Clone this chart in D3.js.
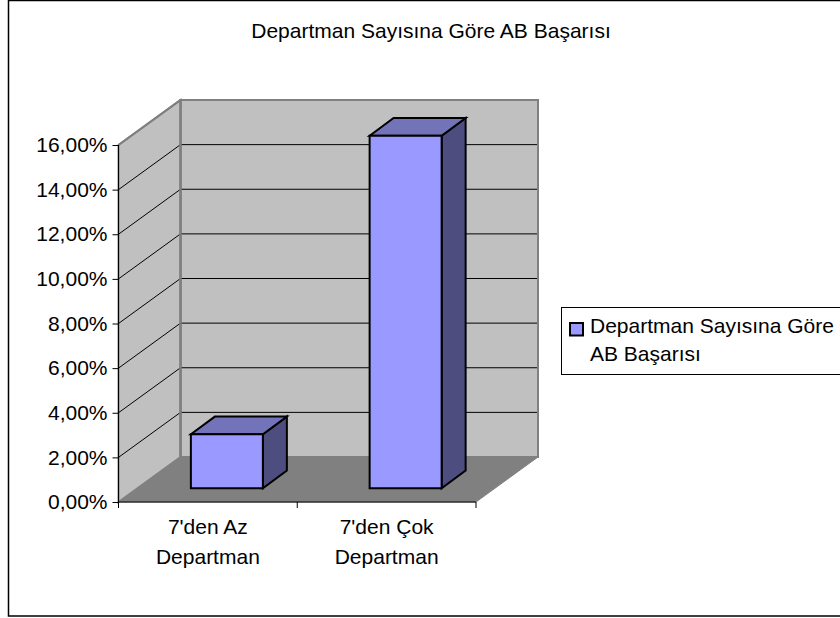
<!DOCTYPE html>
<html><head><meta charset="utf-8">
<script src="https://cdn.jsdelivr.net/npm/d3@7"></script>
<style>html,body{margin:0;padding:0;background:#fff}svg{display:block}text{font-family:"Liberation Sans",Arial,sans-serif;fill:#000}</style>
</head><body><svg id="c" width="840" height="618"></svg>
<script>
const categories=[["7'den Az","Departman"],["7'den Çok","Departman"]];
const values=[2.42,15.8];
const yTicks=[0,2,4,6,8,10,12,14,16];
const titleText="Departman Sayısına Göre AB Başarısı";
const legendLines=["Departman Sayısına Göre","AB Başarısı"];
const svg=d3.select("#c");
const fmt=v=>v.toFixed(2).replace(".",",")+"%";
const y=d3.scaleLinear().domain([0,16]).range([502,145]);
const x=d3.scaleBand().domain([0,1]).range([118.5,476]);
const depthX=62,depthY=45;
const x0=118.5,x1=476,yB=502,yT=145;
const wall="#c0c0c0",edge="#808080",floor="#808080";
const FS=21;
svg.append("rect").attr("x",8.5).attr("y",0.5).attr("width",840).attr("height",615.5).attr("fill","#fff").attr("stroke","#000").attr("stroke-width",1.5);
const poly=(pts,fill,stroke,sw)=>svg.append("polygon").attr("points",pts.map(p=>p.join(",")).join(" ")).attr("fill",fill).attr("stroke",stroke||"none").attr("stroke-width",sw||1).attr("stroke-linejoin","miter");
poly([[x0+depthX,yT-depthY],[x1+depthX,yT-depthY],[x1+depthX,yB-depthY],[x0+depthX,yB-depthY]],wall,edge,2);
poly([[x0,yT],[x0+depthX,yT-depthY],[x0+depthX,yB-depthY],[x0,yB]],wall,edge,2);
poly([[x0,yB],[x0+depthX,yB-depthY],[x1+depthX,yB-depthY],[x1,yB]],floor,edge,1);
yTicks.slice(1).forEach(t=>{const p=y(t);
 svg.append("path").attr("d",`M${x0},${p}L${x0+depthX},${p-depthY}L${x1+depthX},${p-depthY}`).attr("fill","none").attr("stroke","#000").attr("stroke-width",1);
});
svg.append("path").attr("d",`M${x0},${yT}L${x0+depthX},${yT-depthY}L${x1+depthX},${yT-depthY}L${x1+depthX},${yB-depthY}`).attr("fill","none").attr("stroke",edge).attr("stroke-width",2);
svg.append("line").attr("x1",x0+depthX).attr("x2",x0+depthX).attr("y1",yT-depthY).attr("y2",yB-depthY).attr("stroke",edge).attr("stroke-width",2.5);
svg.append("g").attr("transform",`translate(${x0},0)`).call(d3.axisLeft(y).tickValues(yTicks).tickFormat(fmt).tickSize(6).tickPadding(5)).call(g=>{g.select(".domain").attr("stroke","#000").attr("d",`M0,${yT}V${yB}`);g.selectAll("text").attr("font-size",FS).attr("font-family",null);g.selectAll("line").attr("stroke","#000")});
svg.append("g").attr("transform",`translate(0,${yB})`).call(d3.axisBottom(x).tickValues([]).tickSize(0)).call(g=>g.select(".domain").attr("stroke","#000").attr("d",`M${x0},0H${x1}`));
[x0,x0+x.bandwidth(),x1].forEach(t=>svg.append("line").attr("x1",t).attr("x2",t).attr("y1",yB).attr("y2",yB+6).attr("stroke","#000"));
categories.forEach((c,i)=>{const cx=x(i)+x.bandwidth()/2;
 c.forEach((s,j)=>svg.append("text").attr("x",cx).attr("y",534+j*30).attr("text-anchor","middle").attr("font-size",FS).text(s));
});
const barW=72,off=[19,13.7],barD=[24,17.7];
values.forEach((v,i)=>{
 const l=x(i)+(x.bandwidth()-barW)/2+off[0],r=l+barW,b=yB-off[1],t=y(v)-off[1];
 const bar=[[l,t],[r,t],[r,b],[l,b]];
 poly([[r,t],[r+barD[0],t-barD[1]],[r+barD[0],b-barD[1]],[r,b]],"#4d4d80","#000",2);
 poly([[l,t],[l+barD[0],t-barD[1]],[r+barD[0],t-barD[1]],[r,t]],"#7373b9","#000",2);
 poly(bar,"#9999ff","#000",2);
});
svg.append("text").attr("x",431).attr("y",38).attr("text-anchor","middle").attr("font-size",FS).text(titleText);
svg.append("rect").attr("x",561.5).attr("y",307.5).attr("width",290).attr("height",67).attr("fill","#fff").attr("stroke","#000");
svg.append("rect").attr("x",570).attr("y",323).attr("width",13).attr("height",12.5).attr("fill","#9999ff").attr("stroke","#000").attr("stroke-width",2);
legendLines.forEach((s,i)=>svg.append("text").attr("x",590).attr("y",333+i*28).attr("font-size",FS).text(s));
</script></body></html>
